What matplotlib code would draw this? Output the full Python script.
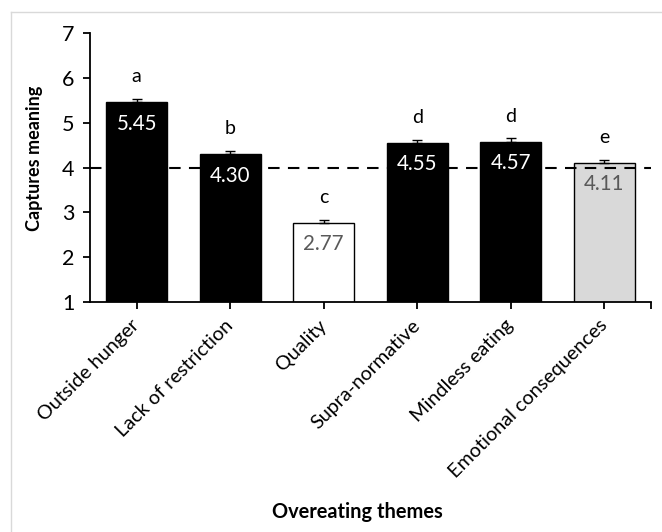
import matplotlib.pyplot as plt
from matplotlib.lines import Line2D

# Data
themes = ["Outside hunger", "Lack of restriction", "Quality",
          "Supra-normative", "Mindless eating", "Emotional consequences"]
means = [5.45, 4.30, 2.77, 4.55, 4.57, 4.11]
errors = [0.07, 0.07, 0.05, 0.06, 0.08, 0.06]
letters = ["a", "b", "c", "d", "d", "e"]
bar_colors = ["black", "black", "white", "black", "black", "#d9d9d9"]
label_colors = ["white", "white", "#595959", "white", "white", "#595959"]

plt.rcParams['font.family'] = ['Lato', 'DejaVu Sans']

fig = plt.figure(figsize=(6.62, 5.32), dpi=100)
ax = fig.add_axes([90 / 662, 1 - 302 / 532, (651 - 90) / 662, (302 - 33) / 532])

x = range(len(themes))
ax.bar(x, means, width=0.65, color=bar_colors, edgecolor="black", linewidth=1,
       zorder=2)
ax.errorbar(x, means, yerr=[[0] * len(errors), errors], fmt="none",
            ecolor="black", elinewidth=1, capsize=3.6, capthick=1, zorder=3)

# reference line at 4
ax.axhline(4, color="black", linestyle=(0, (5.5, 4)), linewidth=1.5, zorder=4,
           clip_on=False)

for i, m in enumerate(means):
    ax.text(i, m - 0.48, f"{m:.2f}", ha="center", va="center",
            fontsize=14.8, color=label_colors[i], zorder=5)
    ax.text(i, m + 0.57, letters[i], ha="center", va="center",
            fontsize=14, color="black")

ax.set_xlim(-0.5, 5.5)
ax.set_ylim(1, 7)
ax.set_yticks(range(1, 8))
ax.set_xticks(list(x))
ax.set_xticks([5.5], minor=True)
ax.set_xticklabels(themes, rotation=45, ha="right", va="center",
                   rotation_mode="anchor", fontsize=14.3)
ax.tick_params(axis="y", labelsize=15.5, length=5, width=1.3, direction="out",
               pad=6)
ax.tick_params(axis="x", which="both", length=5, width=1.3, direction="out",
               pad=10)

for s in ["top", "right"]:
    ax.spines[s].set_visible(False)
for s in ["left", "bottom"]:
    ax.spines[s].set_linewidth(1.3)

ax.set_ylabel("Captures meaning", fontsize=13, fontweight="bold")
ax.yaxis.set_label_coords((43 - 90) / 561, 0.535)
fig.text(357 / 662, 1 - 512 / 532, "Overeating themes", ha="center",
         va="center", fontsize=14.4, fontweight="bold")

# light frame around the figure
fig.add_artist(Line2D([11 / 662, 11 / 662], [0, 1 - 12 / 532],
                      color="#d9d9d9", linewidth=1, transform=fig.transFigure))
fig.add_artist(Line2D([11 / 662, 1], [1 - 12 / 532, 1 - 12 / 532],
                      color="#d9d9d9", linewidth=1, transform=fig.transFigure))

fig.savefig("out.png", dpi=100)
